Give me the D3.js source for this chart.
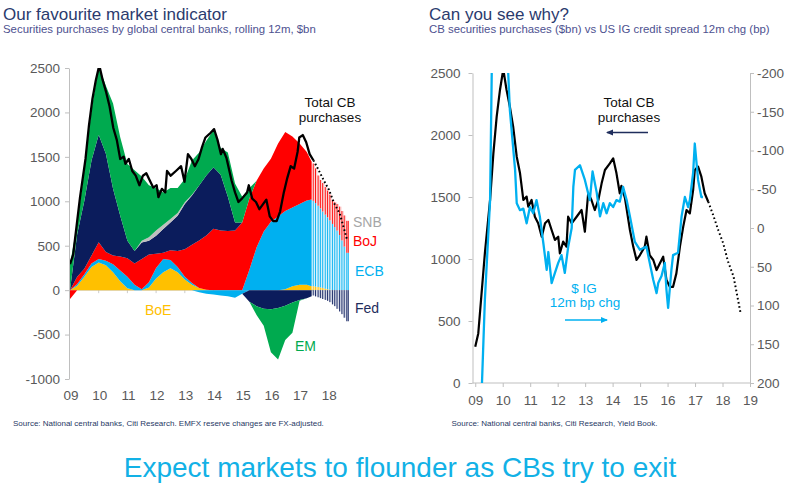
<!DOCTYPE html>
<html><head><meta charset="utf-8">
<script src="https://cdn.jsdelivr.net/npm/d3@7"></script>
<style>
body{margin:0;background:#fff}
svg{display:block;font-family:Arial,"Liberation Sans",Helvetica,sans-serif}
</style>
</head><body>
<svg id="c" width="800" height="498"></svg>
<script>
// ---------- DATA (left chart: stacked CB purchases, rolling 12m, $bn) ----------
const dates = [2009.0,2009.25,2009.5,2009.75,2010.0,2010.25,2010.5,2010.75,2011.0,2011.25,2011.5,2011.75,
  2012.0,2012.25,2012.5,2012.75,2013.0,2013.25,2013.5,2013.75,2014.0,2014.25,2014.5,2014.75,
  2015.0,2015.25,2015.5,2015.75,2016.0,2016.25,2016.5,2016.75,2017.0,2017.25,2017.42];
const boe = [0,50,150,260,310,280,200,100,20,0,0,30,130,200,245,200,120,60,25,5,0,0,0,0,0,0,0,0,0,0,10,45,60,60,45];
const ecb = [0,20,30,40,40,50,90,120,130,60,10,60,120,150,95,60,30,20,-25,-40,-50,-60,-70,-85,-40,230,480,660,770,830,880,885,910,950,975];
const boj = [-100,80,60,90,190,100,100,160,210,240,340,310,160,70,110,180,310,430,535,610,690,670,665,670,760,800,750,710,710,820,890,800,680,545,425];
const fed = [0,480,767,1070,1210,1106,750,458,195,141,186,155,201,267,312,398,510,554,617,675,694,630,385,90,0,-130,-180,-210,-215,-200,-175,-140,-110,-90,-70];
const snb = [0,0,0,0,0,0,0,0,0,0,20,40,60,50,40,30,20,10,0,0,0,0,0,0,0,0,0,0,0,0,0,0,0,0,0];
const em  = [290,120,343,570,770,764,960,882,865,909,724,585,479,363,348,282,260,386,373,390,416,300,500,440,290,120,-100,-190,-485,-580,-385,-340,-10,0,0];

// forecast (hatched) months
const fcDates = [2017.5,2017.58,2017.67,2017.75,2017.83,2017.92,2018.0,2018.08,2018.17,2018.25,2018.33,2018.42,2018.5,2018.58,2018.67];
const fcBoe = [45,40,35,30,25,15,10,5,0,0,0,0,0,0,0];
const fcEcb = [960,940,915,890,860,835,810,780,745,710,670,620,560,490,420];
const fcBoj = [420,390,340,320,320,310,300,290,270,280,300,320,330,350,360];
const fcFed = [-60,-70,-80,-90,-100,-110,-120,-135,-160,-180,-210,-240,-270,-310,-350];

// total CB purchases ($bn)
const totalDates = [2009.0,2009.11,2009.23,2009.35,2009.54,2009.66,2009.78,2009.9,2010.02,2010.14,2010.26,2010.38,2010.51,2010.63,2010.75,2010.87,2010.93,
  2011.05,2011.17,2011.29,2011.42,2011.54,2011.66,2011.78,2011.9,2012.02,2012.08,2012.2,2012.32,2012.38,2012.51,2012.69,2012.87,2012.99,
  2013.11,2013.23,2013.35,2013.48,2013.6,2013.72,2013.9,2014.02,2014.14,2014.26,2014.32,2014.45,2014.63,2014.75,2014.87,2014.99,
  2015.17,2015.23,2015.35,2015.48,2015.6,2015.72,2015.84,2015.96,2016.08,2016.2,2016.32,2016.45,2016.57,2016.69,2016.81,2016.93,2016.99,
  2017.11,2017.23,2017.35,2017.48];
const totalValues = [293,400,723,1046,1476,1852,2148,2363,2530,2363,2228,2067,1825,1691,1476,1503,1422,
  1476,1341,1288,1180,1288,1315,1234,1154,1180,1046,1140,1100,1341,1288,1341,1395,1220,
  1530,1476,1395,1476,1610,1718,1771,1812,1691,1530,1590,1490,1234,1100,992,1030,
  1100,1180,1030,992,911,965,1019,830,776,776,884,1100,1261,1395,1368,1556,1718,
  1745,1664,1530,1462];
const totalFcDates = [2017.48,2017.65,2017.85,2018.02,2018.2,2018.4,2018.66];
const totalFcValues = [1462,1360,1230,1130,980,860,560];

// US IG credit spread, 12m change (bp), right chart inverted axis
const igDates = [2009.23,2009.35,2009.54,2009.6,2009.75,2009.95,2010.1,2010.2,2010.26,2010.45,2010.51,2010.63,2010.75,2010.87,2010.99,
  2011.11,2011.23,2011.35,2011.48,2011.6,2011.66,2011.78,2011.9,2012.02,2012.14,2012.26,2012.38,2012.51,2012.57,2012.63,2012.81,2012.99,
  2013.17,2013.27,2013.42,2013.54,2013.66,2013.78,2013.9,2014.02,2014.14,2014.26,2014.38,2014.51,2014.63,2014.81,2014.99,
  2015.23,2015.35,2015.48,2015.6,2015.66,2015.78,2015.9,2015.96,2016.02,2016.14,2016.2,2016.38,2016.51,2016.63,2016.75,2016.81,2016.93,2016.99,
  2017.11,2017.23,2017.29];
const igValues = [215,93,-36,-200,-290,-320,-270,-200,-152,-75,-32,-23,-25,-6,-27,
  -19,-36,-15,20,54,31,71,58,45,35,58,25,0,-53,-75,-81,-62,
  -36,-73,-46,-15,-32,-19,-32,-27,-36,-34,-53,-36,-15,18,28,
  24,45,67,84,71,62,45,80,103,54,35,32,-15,-40,-27,-36,-71,-109,
  -62,-40,-40];

const yearsL = [2009,2010,2011,2012,2013,2014,2015,2016,2017,2018];
const yearsR = [2009,2010,2011,2012,2013,2014,2015,2016,2017,2018,2019];
const yTicksL = [-1000,-500,0,500,1000,1500,2000,2500];
const yTicksRL = [0,500,1000,1500,2000,2500];
const yTicksRR = [-200,-150,-100,-50,0,50,100,150,200];

// ---------- STYLE ----------
const COL = {BoE:'#ffc000', ECB:'#00b0f0', BoJ:'#ff0000', Fed:'#0b1c5c', SNB:'#bfbfbf', EM:'#00aa4f'};
const TINT = {BoE:'#ffe7a0', ECB:'#d4f1fc', BoJ:'#fbd3d3', Fed:'#d6d9e6'};
const AX = '#bfbfbf', TXT = '#595959';

// Each series is split into a positive part (key+'+') and a negative part (key+'-').
// Positive parts stack up from 0, negative parts stack down from 0; zero values stay on
// their own side's running edge so no slivers cross other layers.
function offsetSplit(series, order){
  const n = series.length; if(!n) return;
  const m = series[order[0]].length;
  for (let j=0;j<m;j++){
    let yp=0, yn=0;
    for (let i=0;i<n;i++){
      const s = series[order[i]], d = s[j];
      const v = d[1]-d[0];
      if (s.key.endsWith('+')){ d[0]=yp; d[1]=yp+=v; }
      else { d[1]=yn; d[0]=yn+=v; }
    }
  }
}
function splitRows(dts, keys, src){
  return dts.map((d,i)=>{
    const r={date:d};
    keys.forEach(k=>{ const v=src[k][i]; r[k+'+']=Math.max(v,0); r[k+'-']=Math.min(v,0); });
    return r;
  });
}

const svg = d3.select('#c');
const defs = svg.append('defs');
defs.append('clipPath').attr('id','clipL').append('rect').attr('x',69).attr('y',68).attr('width',331).attr('height',311);
defs.append('clipPath').attr('id','clipR').append('rect').attr('x',472.5).attr('y',73).attr('width',277.5).attr('height',310);

// ---------- TITLES ----------
svg.append('text').attr('x',3).attr('y',19.5).attr('font-size',17).attr('fill','#2b3b6e').text('Our favourite market indicator');
svg.append('text').attr('x',3).attr('y',33).attr('font-size',11.4).attr('fill','#4d5190').text('Securities purchases by global central banks, rolling 12m, $bn');
svg.append('text').attr('x',429).attr('y',19.5).attr('font-size',17).attr('fill','#2b3b6e').text('Can you see why?');
svg.append('text').attr('x',429).attr('y',33).attr('font-size',11.4).attr('fill','#4d5190').text('CB securities purchases ($bn) vs US IG credit spread 12m chg (bp)');

// ---------- LEFT CHART ----------
const xL = d3.scaleLinear().domain([2009,2018]).range([70,328.3]);
const yL = d3.scaleLinear().domain([-1000,2500]).range([379,68]);

const gZero = svg.append('g').attr('transform',`translate(0,${yL(0)})`);
gZero.append('line').attr('x1',69).attr('x2',349).attr('stroke',AX).attr('stroke-width',0.8);
gZero.selectAll('line.t').data(yearsL).join('line').attr('class','t')
  .attr('x1',d=>xL(d)).attr('x2',d=>xL(d)).attr('y1',0).attr('y2',3).attr('stroke',AX).attr('stroke-width',0.8);

const keys = ['BoE','ECB','BoJ','Fed','SNB','EM'];
const series = {BoE:boe, ECB:ecb, BoJ:boj, Fed:fed, SNB:snb, EM:em};
const splitKeys = keys.map(k=>k+'+').concat(keys.map(k=>k+'-'));
const stacked = d3.stack().keys(splitKeys).offset(offsetSplit)(splitRows(dates, keys, series));
const area = d3.area().x(d=>xL(d.data.date)).y0(d=>yL(d[0])).y1(d=>yL(d[1]));
const gA = svg.append('g').attr('clip-path','url(#clipL)');
gA.selectAll('path.a').data(stacked).join('path').attr('class','a')
  .attr('d',area).attr('fill',d=>COL[d.key.slice(0,-1)]);

// hatched forecast bars
const fKeys = ['BoE','ECB','BoJ','Fed'];
const fSeries = {BoE:fcBoe, ECB:fcEcb, BoJ:fcBoj, Fed:fcFed};
const fSplit = fKeys.map(k=>k+'+').concat(fKeys.map(k=>k+'-'));
const fStack = d3.stack().keys(fSplit).offset(offsetSplit)(splitRows(fcDates, fKeys, fSeries));
const mw = xL(2009+1/12)-xL(2009);
const gF = svg.append('g').attr('clip-path','url(#clipL)');
fStack.forEach(s=>{
  const k = s.key.slice(0,-1);
  const segs = s.filter(d=>Math.abs(d[1]-d[0])>0);
  const g = gF.append('g');
  g.selectAll('rect').data(segs).join('rect')
    .attr('x',d=>xL(d.data.date)-mw/2).attr('width',mw)
    .attr('y',d=>yL(Math.max(d[0],d[1]))).attr('height',d=>Math.abs(yL(d[0])-yL(d[1])))
    .attr('fill',TINT[k]);
  g.selectAll('line').data(segs).join('line')
    .attr('x1',d=>xL(d.data.date)-mw/2+0.45).attr('x2',d=>xL(d.data.date)-mw/2+0.45)
    .attr('y1',d=>yL(d[0])).attr('y2',d=>yL(d[1]))
    .attr('stroke',COL[k]).attr('stroke-width',0.9);
  const last = s[s.length-1];
  if (Math.abs(last[1]-last[0])>0){
    g.append('line').attr('x1',xL(last.data.date)+mw/2-0.45).attr('x2',xL(last.data.date)+mw/2-0.45)
      .attr('y1',yL(last[0])).attr('y2',yL(last[1])).attr('stroke',COL[k]).attr('stroke-width',0.9);
  }
});

// total line
const totalPts = totalDates.map((d,i)=>[d,totalValues[i]]);
const totalFcPts = totalFcDates.map((d,i)=>[d,totalFcValues[i]]);
const lineL = d3.line().x(d=>xL(d[0])).y(d=>yL(d[1]));
const gL = svg.append('g').attr('clip-path','url(#clipL)');
gL.append('path').attr('d',lineL(totalPts)).attr('fill','none').attr('stroke','#000').attr('stroke-width',2.3).attr('stroke-linejoin','round');
gL.append('path').attr('d',lineL(totalFcPts)).attr('fill','none').attr('stroke','#000').attr('stroke-width',2).attr('stroke-dasharray','1.6,2.4');

const axL = svg.append('g').attr('transform','translate(69,0)')
  .call(d3.axisLeft(yL).tickValues(yTicksL).tickSize(4).tickSizeOuter(0).tickPadding(5).tickFormat(d=>String(d)));
axL.select('.domain').attr('stroke',AX);
axL.selectAll('.tick line').attr('stroke',AX);
axL.selectAll('.tick text').attr('font-size',13.5).attr('fill',TXT).attr('font-family','Arial,"Liberation Sans",sans-serif');
svg.append('g').selectAll('text').data(yearsL).join('text')
  .attr('x',d=>xL(d)+1).attr('y',400).attr('text-anchor','middle').attr('font-size',13.5).attr('fill',TXT)
  .text(d=>String(d).slice(2));

const lab = (x,y,t,c,anchor,size)=>svg.append('text').attr('x',x).attr('y',y).attr('fill',c)
  .attr('font-size',size||14).attr('text-anchor',anchor||'start').text(t);
lab(330,106.5,'Total CB','#111','middle',13.5);
lab(330,122,'purchases','#111','middle',13.5);
lab(353,227,'SNB','#a6a6a6');
lab(353,246,'BoJ','#ff0000');
lab(355,276,'ECB','#00b0f0');
lab(355,313,'Fed','#1f2d5c');
lab(145,315,'BoE','#ffc000');
lab(295,351,'EM','#00aa4f');

svg.append('text').attr('x',13).attr('y',426).attr('font-size',8).attr('fill','#1f3864')
  .text('Source: National central banks, Citi Research. EMFX reserve changes are FX-adjusted.');

// ---------- RIGHT CHART ----------
const xR = d3.scaleLinear().domain([2008.9,2019]).range([472.5,750]);
const yRL = d3.scaleLinear().domain([0,2500]).range([383,73]);
const yRR = d3.scaleLinear().domain([-200,200]).range([73,383]);

const axRL = svg.append('g').attr('transform','translate(472.5,0)')
  .call(d3.axisLeft(yRL).tickValues(yTicksRL).tickSize(4).tickSizeOuter(0).tickPadding(8).tickFormat(d=>String(d)));
const axRR = svg.append('g').attr('transform','translate(750,0)')
  .call(d3.axisRight(yRR).tickValues(yTicksRR).tickSize(4).tickSizeOuter(0).tickPadding(3).tickFormat(d=>String(d)));
const axRB = svg.append('g').attr('transform','translate(0,383)')
  .call(d3.axisBottom(xR).tickValues(yearsR).tickSize(4).tickSizeOuter(0).tickPadding(8).tickFormat(d=>String(d).slice(2)));
[axRL,axRR,axRB].forEach(a=>{
  a.select('.domain').attr('stroke',AX);
  a.selectAll('.tick line').attr('stroke',AX);
  a.selectAll('.tick text').attr('font-size',13.5).attr('fill',TXT).attr('font-family','Arial,"Liberation Sans",sans-serif');
});
axRB.select('.domain').attr('d','M472.5,0H750');

const gR = svg.append('g').attr('clip-path','url(#clipR)');
const lineRB = d3.line().x(d=>xR(d[0])).y(d=>yRL(d[1]));
const igPts = igDates.map((d,i)=>[d,igValues[i]]);
const lineIG = d3.line().x(d=>xR(d[0])).y(d=>yRR(d[1]));
gR.append('path').attr('d',lineRB(totalPts)).attr('fill','none').attr('stroke','#000').attr('stroke-width',2.2).attr('stroke-linejoin','round');
gR.append('path').attr('d',lineIG(igPts)).attr('fill','none').attr('stroke','#00b0f0').attr('stroke-width',2.3).attr('stroke-linejoin','round');
gR.append('path').attr('d',lineRB(totalFcPts)).attr('fill','none').attr('stroke','#000').attr('stroke-width',2).attr('stroke-dasharray','1.6,2.6');

lab(629,106.5,'Total CB','#111','middle',13.5);
lab(629,122,'purchases','#111','middle',13.5);
lab(584,292.5,'$ IG','#00b0f0','middle',13.5);
lab(585,307,'12m bp chg','#00b0f0','middle',13.5);
function arrow(x1,x2,y,c){
  svg.append('line').attr('x1',x1).attr('x2',x2).attr('y1',y).attr('y2',y).attr('stroke',c).attr('stroke-width',1.6);
  const dir = Math.sign(x2-x1);
  svg.append('path').attr('d',`M${x2+dir*1},${y}L${x2-dir*6},${y-3}L${x2-dir*6},${y+3}Z`).attr('fill',c);
}
arrow(648,607,132.5,'#1f2d5c');
arrow(565,607,320,'#00b0f0');

svg.append('text').attr('x',451.5).attr('y',426).attr('font-size',8).attr('fill','#1f3864')
  .text('Source: National central banks, Citi Research, Yield Book.');

// ---------- FOOTER ----------
svg.append('text').attr('x',400).attr('y',477).attr('text-anchor','middle').attr('font-size',28).attr('fill','#12b1e6')
  .text('Expect markets to flounder as CBs try to exit');
</script>
</body></html>
